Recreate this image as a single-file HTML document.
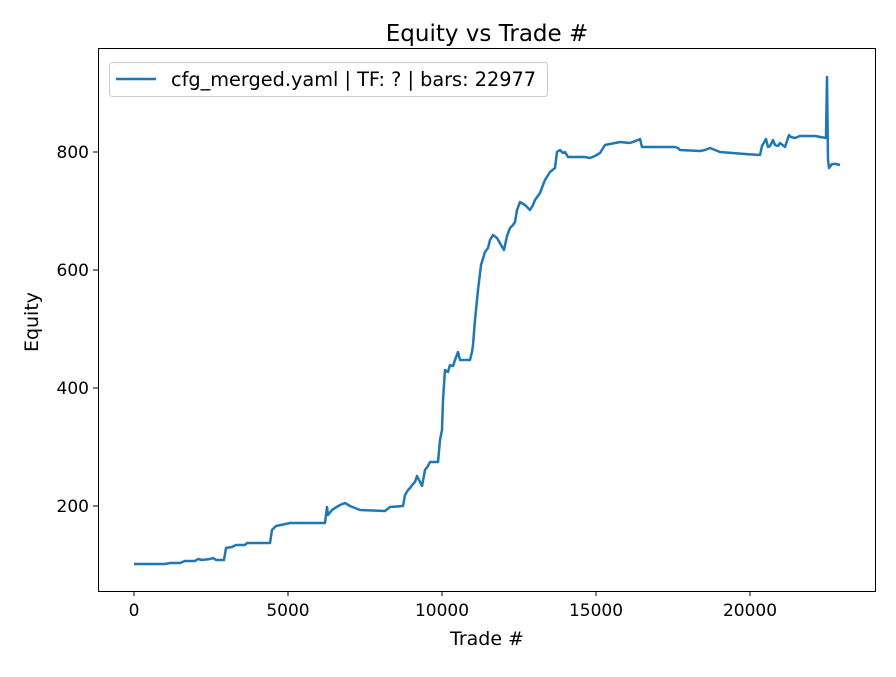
<!DOCTYPE html>
<html><head><style>body{margin:0;background:#fff}</style></head><body>
<svg width="896" height="672" xmlns="http://www.w3.org/2000/svg" font-family="DejaVu Sans, Liberation Sans, sans-serif">
<rect width="896" height="672" fill="#fff"/>
<text x="487" y="41" font-size="23" text-anchor="middle">Equity vs Trade #</text>
<polyline fill="none" stroke="#1f77b4" stroke-width="2.5" stroke-linejoin="round" points="134,564 165,564 170,563 180,563 185,561 195,561 198,559 202,560 210,559 213,558 216,560 224,560 226,548 232,547 236,545 245,545 247,543 270,543 272,530 276,526 290,523 310,523 325,523 327,507 328,515 332,510 335,508 340,505 345,503 350,506 355,508 360,510 385,511 390,507 403,506 405,495 408,490 410,488 413,484 415,482 417,476 419,480 422,486 425,470 428,466 430,462 438,462 440,440 442,430 443,400 445,370 448,372 450,365 453,366 455,360 458,352 460,360 465,360 470,360 472,352 473,345 475,320 477,300 478,290 481,265 485,252 488,248 490,240 493,235 497,238 501,245 504,250 507,236 510,228 513,225 515,222 517,210 520,202 525,205 530,210 533,205 535,200 540,193 543,185 545,180 550,172 555,168 557,152 560,150 563,153 565,152 568,157 585,157 590,158 595,156 600,153 605,145 615,143 620,142 630,143 638,140 640,139 642,147 660,147 675,147 678,148 680,150 700,151 705,150 710,148 715,150 720,152 745,154 760,155 762,146 766,139 768,147 770,146 773,140 775,145 778,146 780,143 785,147 789,135 791,137 795,138 800,136 815,136 826,138 827,77 828,160 829,168 832,164 836,164 840,165"/>
<rect x="98.5" y="48.5" width="777" height="543" fill="none" stroke="#000" stroke-width="1"/>
<g stroke="#000" stroke-width="1">
<line x1="134" y1="591" x2="134" y2="596"/><line x1="288" y1="591" x2="288" y2="596"/><line x1="442" y1="591" x2="442" y2="596"/><line x1="596" y1="591" x2="596" y2="596"/><line x1="750" y1="591" x2="750" y2="596"/>
<line x1="93" y1="152" x2="98" y2="152"/><line x1="93" y1="270" x2="98" y2="270"/><line x1="93" y1="388" x2="98" y2="388"/><line x1="93" y1="506" x2="98" y2="506"/>
</g>
<g font-size="17" text-anchor="middle">
<text x="134" y="616">0</text><text x="288" y="616">5000</text><text x="442" y="616">10000</text><text x="596" y="616">15000</text><text x="750" y="616">20000</text>
</g>
<g font-size="17" text-anchor="end">
<text x="89" y="158">800</text><text x="89" y="276">600</text><text x="89" y="394">400</text><text x="89" y="512">200</text>
</g>
<text x="487" y="645" font-size="19" text-anchor="middle">Trade #</text>
<text transform="translate(38,322) rotate(-90)" font-size="19" text-anchor="middle">Equity</text>
<rect x="109.5" y="62.5" width="438" height="34" rx="3" fill="#fff" stroke="#ccc"/>
<line x1="116" y1="79" x2="156" y2="79" stroke="#1f77b4" stroke-width="2.5"/>
<text x="171" y="86" font-size="19.3">cfg_merged.yaml | TF: ? | bars: 22977</text>
</svg>
</body></html>
